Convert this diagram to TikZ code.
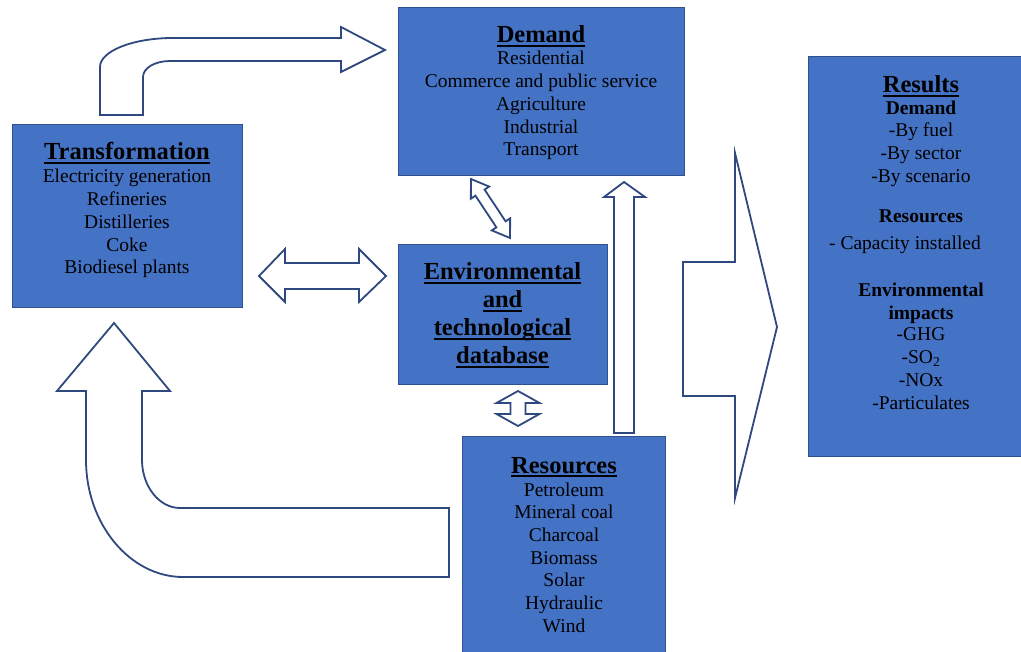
\documentclass[tikz,border=0pt]{standalone}
\usepackage{fontspec}
\setmainfont{Liberation Serif}
\definecolor{boxfill}{RGB}{68,114,196}
\definecolor{boxline}{RGB}{47,82,143}
\definecolor{arrowc}{RGB}{47,72,128}
\newcommand\ttlf{\fontsize{24.5}{28}\selectfont\bfseries}
\newcommand\bodyf{\fontsize{19.5}{22.7}\selectfont}
\newcommand\myul[1]{\leavevmode\setbox0\hbox{#1}\rlap{\vrule width\wd0 height -2.2pt depth 3.6pt}\box0}
\begin{document}
\begin{tikzpicture}[x=1pt,y=-1pt,
  box/.style={draw=boxline, fill=boxfill, line width=1pt, inner sep=0pt},
  blockarrow/.style={draw=arrowc, fill=white, line width=1.8pt, line join=miter},
  lbl/.style={anchor=base, align=center, inner sep=0pt, text=black},
  ttl/.style={lbl, font=\ttlf},
  body/.style={lbl, font=\bodyf},
  sub/.style={lbl, font=\bodyf\bfseries}]
\useasboundingbox (0,0) rectangle (1021,652);
% boxes
\node[box, minimum width=286pt, minimum height=168pt] (demand) at (541,92) {};
\node[box, minimum width=230pt, minimum height=183pt] (transf) at (127,216.5) {};
\node[box, minimum width=209pt, minimum height=140pt] (envdb) at (502.5,315) {};
\node[box, minimum width=203pt, minimum height=222pt] (resources) at (563.5,548) {};
\node[box, minimum width=218pt, minimum height=400pt] (results) at (917,257) {};
% texts (anchor=base is the baseline of the last line)
\node[ttl] (demandT) at (541,43) {\myul{Demand}};
\node[body] (demandB) at (541,155.8) {Residential\\Commerce and public service\\Agriculture\\Industrial\\Transport};
\node[ttl] (transfT) at (127,160) {\myul{Transformation}};
\node[body] (transfB) at (127,273.8) {Electricity generation\\Refineries\\Distilleries\\Coke\\Biodiesel plants};
\node[ttl] (envT) at (502.5,364) {\myul{Environmental}\\\myul{and}\\\myul{technological}\\\myul{database}};
\node[ttl] (resT) at (564,473) {\myul{Resources}};
\node[body] (resB) at (564,632.2) {Petroleum\\Mineral coal\\Charcoal\\Biomass\\Solar\\Hydraulic\\Wind};
\node[ttl] (resultsT) at (921,93) {\myul{Results}};
\node[sub] (rDem) at (921,115) {Demand};
\node[body] (rDemB) at (921,182.4) {-By fuel\\-By sector\\-By scenario};
\node[sub] (rRes) at (921,223) {Resources};
\node[body] (rResB) at (905,250) {- Capacity installed};
\node[sub] (rEnv) at (921,319.7) {Environmental\\impacts};
\node[body] (rEnvB) at (921,409.1) {-GHG\\-SO\textsubscript{2}\\-NOx\\-Particulates};
% top bent arrow: transformation -> demand
\draw[blockarrow] (100,115) -- (100,67) .. controls (100,51) and (133,38) .. (173,38)
  -- (341,38) -- (341,27) -- (385,50) -- (341,72) -- (341,61) -- (170,61)
  .. controls (155,61) and (143,68) .. (143,77) -- (143,115) -- cycle;
% bottom bent arrow: resources -> transformation
\draw[blockarrow] (114,323) -- (170,391) -- (142,391) -- (142,460)
  .. controls (142,486) and (159,508) .. (180,508) -- (449,508) -- (449,577) -- (183,577)
  .. controls (130,577) and (86,524) .. (86,460) -- (86,391) -- (57,391) -- cycle;
% horizontal double arrow: transformation <-> database
\draw[blockarrow] (259,276) -- (285,249) -- (285,263) -- (359,263) -- (359,249) -- (386,276)
  -- (359,302) -- (359,289) -- (285,289) -- (285,302) -- cycle;
% vertical double arrow: database <-> resources
\draw[blockarrow] (518,391) -- (539.5,403) -- (525.5,403) -- (525.5,414) -- (539.5,414) -- (518,426)
  -- (496.5,414) -- (510.5,414) -- (510.5,403) -- (496.5,403) -- cycle;
% vertical single arrow: resources -> demand
\draw[blockarrow] (624,182) -- (645,197) -- (634,197) -- (634,433) -- (614,433) -- (614,197) -- (604,197) -- cycle;
% diagonal double arrow: database <-> demand
\begin{scope}[shift={(490.5,208.5)}, rotate=-56.5]
\draw[blockarrow] (-35.4,0) -- (-19,-11) -- (-19,-5.5) -- (19,-5.5) -- (19,-11) -- (35.4,0)
  -- (19,11) -- (19,5.5) -- (-19,5.5) -- (-19,11) -- cycle;
\end{scope}
% big arrow to results
\draw[blockarrow] (683,262) -- (735,262) -- (735,153) -- (777,327) -- (735,498) -- (735,396) -- (683,396) -- cycle;
\end{tikzpicture}
\end{document}
